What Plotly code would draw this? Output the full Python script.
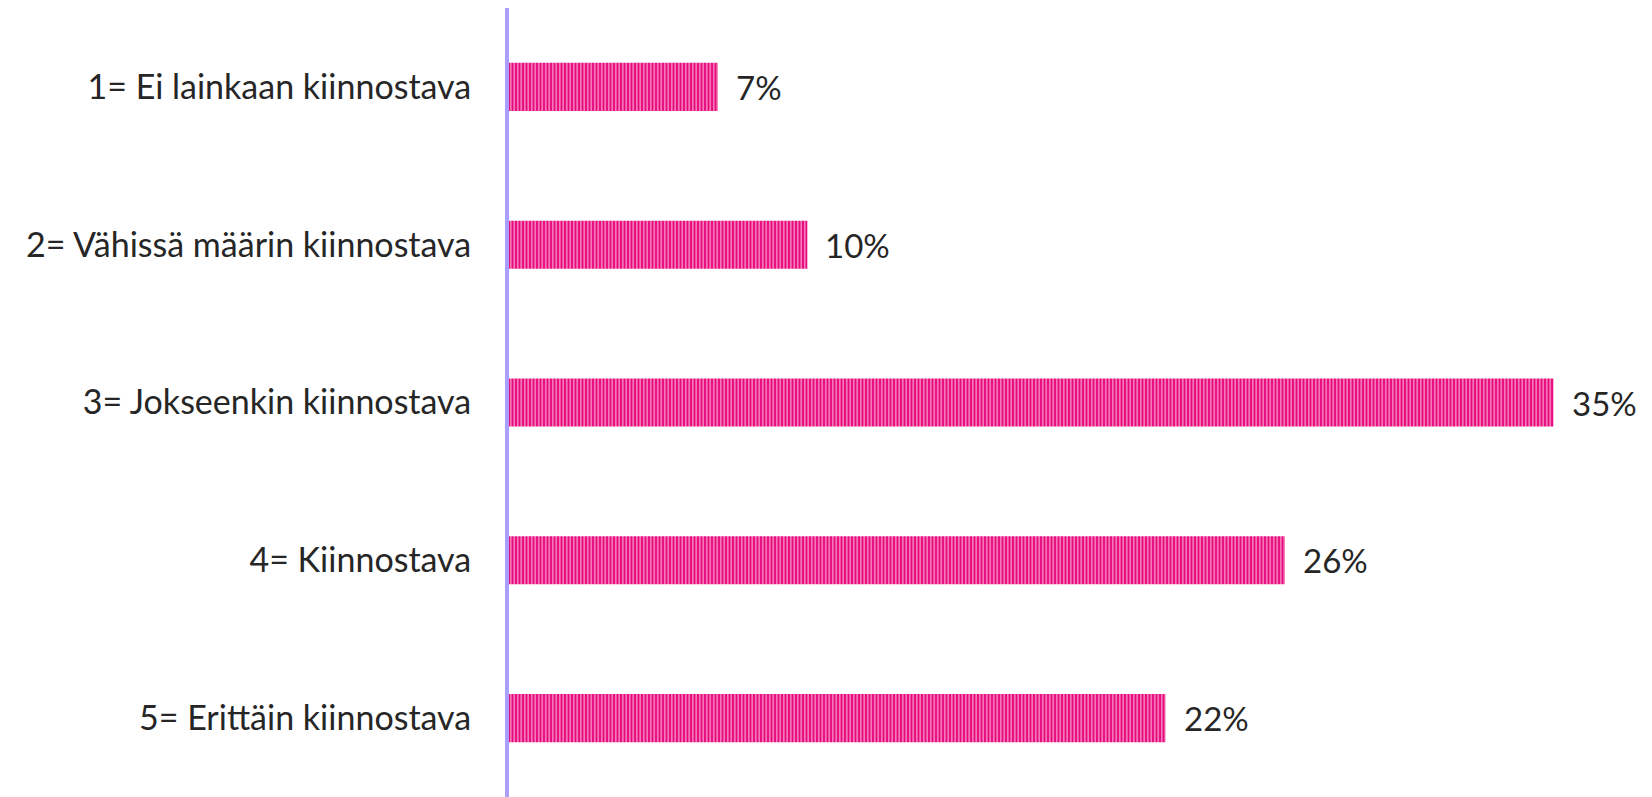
import plotly.graph_objects as go

categories = ["1= Ei lainkaan kiinnostava", "2= Vähissä määrin kiinnostava",
              "3= Jokseenkin kiinnostava", "4= Kiinnostava", "5= Erittäin kiinnostava"]
values = [7, 10, 35, 26, 22]
labels = ["7%", "10%", "35%", "26%", "22%"]

fig = go.Figure(go.Bar(
    y=categories, x=values, orientation="h",
    marker=dict(color="#E8097D", line=dict(width=0),
                pattern=dict(shape="|", fgcolor="#F8A6CE", bgcolor="#E8097D",
                             size=3.5, solidity=0.35, fillmode="replace")),
))

for cat, val, lab in zip(categories, values, labels):
    fig.add_annotation(x=val, y=cat, text=lab, showarrow=False, xanchor="left",
                       xshift=16, font=dict(size=33, color="#262626", family="Lato"))

fig.update_layout(
    width=1644, height=789,
    margin=dict(l=501, r=0, t=0, b=0),
    plot_bgcolor="white", paper_bgcolor="white",
    bargap=0.695, showlegend=False,
    font=dict(family="Lato", size=34, color="#262626"),
)
fig.update_yaxes(autorange="reversed", showline=True, linecolor="#A99FFF", linewidth=4,
                 ticks="", ticklabelstandoff=27, showgrid=False,
                 tickfont=dict(size=34, color="#262626", family="Lato"))
fig.update_xaxes(range=[0, 38.3], visible=False, showgrid=False)

fig.write_html("out.html")
